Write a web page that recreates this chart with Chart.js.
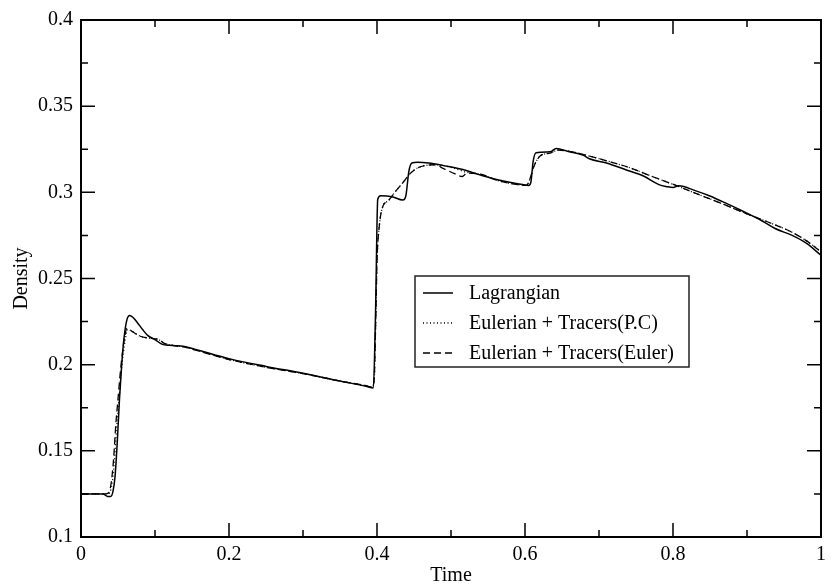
<!DOCTYPE html>
<html>
<head>
<meta charset="utf-8">
<script src="https://cdn.jsdelivr.net/npm/chart.js@4"></script>
<style>
  html, body { margin: 0; padding: 0; background: #fff; }
  #wrap { width: 832px; height: 588px; }
</style>
</head>
<body>
<div id="wrap"><canvas id="mychart" width="832" height="588"></canvas></div>
<script>
// --- data ---
const lagTime = [0, 0.03, 0.036, 0.040, 0.043, 0.046, 0.049, 0.052, 0.055, 0.058, 0.062, 0.066, 0.070, 0.076, 0.083, 0.09, 0.1, 0.11, 0.12, 0.14, 0.16, 0.2, 0.25, 0.3, 0.35, 0.385, 0.395, 0.398, 0.401, 0.405, 0.42, 0.435, 0.439, 0.443, 0.447, 0.455, 0.47, 0.49, 0.513, 0.54, 0.566, 0.59, 0.605, 0.608, 0.611, 0.615, 0.634, 0.642, 0.66, 0.679, 0.687, 0.71, 0.737, 0.76, 0.781, 0.792, 0.8, 0.808, 0.83, 0.849, 0.87, 0.898, 0.92, 0.938, 0.961, 0.98, 1.0];
const lagDensity = [0.125, 0.125, 0.1235, 0.1235, 0.126, 0.135, 0.155, 0.18, 0.2, 0.215, 0.226, 0.2285, 0.2275, 0.2245, 0.2205, 0.217, 0.2145, 0.2118, 0.2112, 0.2105, 0.2082, 0.2035, 0.199, 0.195, 0.1905, 0.1875, 0.1865, 0.23, 0.296, 0.298, 0.2975, 0.2955, 0.298, 0.312, 0.317, 0.3175, 0.317, 0.3155, 0.3135, 0.31, 0.307, 0.305, 0.304, 0.306, 0.318, 0.323, 0.3235, 0.3255, 0.3235, 0.3215, 0.3195, 0.317, 0.313, 0.3095, 0.3045, 0.3033, 0.3028, 0.3038, 0.301, 0.298, 0.294, 0.2883, 0.2835, 0.279, 0.275, 0.2705, 0.2635];

const pcTime = [0, 0.035, 0.039, 0.042, 0.045, 0.048, 0.051, 0.054, 0.057, 0.060, 0.063, 0.07, 0.08, 0.09, 0.1, 0.106, 0.112, 0.12, 0.14, 0.16, 0.2, 0.25, 0.3, 0.35, 0.385, 0.393, 0.396, 0.398, 0.400, 0.403, 0.408, 0.415, 0.424, 0.437, 0.445, 0.455, 0.478, 0.5, 0.52, 0.54, 0.566, 0.59, 0.602, 0.606, 0.612, 0.62, 0.634, 0.645, 0.66, 0.683, 0.71, 0.74, 0.77, 0.804, 0.83, 0.86, 0.9, 0.93, 0.961, 0.98, 1.0];
const pcDensity = [0.125, 0.125, 0.126, 0.131, 0.143, 0.162, 0.178, 0.194, 0.206, 0.215, 0.2205, 0.219, 0.2165, 0.2155, 0.215, 0.2143, 0.2125, 0.2115, 0.2103, 0.2079, 0.203, 0.1985, 0.1948, 0.1905, 0.1878, 0.187, 0.19, 0.22, 0.26, 0.28, 0.292, 0.295, 0.3, 0.3067, 0.311, 0.3142, 0.316, 0.3145, 0.3118, 0.3102, 0.3065, 0.3045, 0.304, 0.307, 0.315, 0.3209, 0.3228, 0.3245, 0.3238, 0.3215, 0.3183, 0.3145, 0.3095, 0.304, 0.2995, 0.2945, 0.2875, 0.2825, 0.2768, 0.272, 0.2655];

const eulTime = [0, 0.034, 0.038, 0.041, 0.044, 0.047, 0.050, 0.053, 0.056, 0.059, 0.062, 0.07, 0.08, 0.09, 0.1, 0.106, 0.112, 0.12, 0.14, 0.16, 0.2, 0.25, 0.3, 0.35, 0.385, 0.393, 0.396, 0.398, 0.400, 0.403, 0.408, 0.415, 0.424, 0.437, 0.445, 0.455, 0.478, 0.49, 0.505, 0.515, 0.522, 0.54, 0.566, 0.59, 0.602, 0.606, 0.612, 0.62, 0.634, 0.645, 0.66, 0.683, 0.71, 0.74, 0.77, 0.804, 0.83, 0.86, 0.9, 0.93, 0.961, 0.98, 1.0];
const eulDensity = [0.125, 0.125, 0.126, 0.132, 0.145, 0.165, 0.18, 0.195, 0.207, 0.216, 0.221, 0.219, 0.2165, 0.2155, 0.215, 0.2145, 0.2125, 0.2115, 0.2102, 0.2078, 0.203, 0.1985, 0.1948, 0.1905, 0.1878, 0.187, 0.19, 0.22, 0.26, 0.28, 0.292, 0.295, 0.3, 0.3067, 0.311, 0.3142, 0.316, 0.3138, 0.3108, 0.3092, 0.3112, 0.3105, 0.3065, 0.3045, 0.304, 0.307, 0.315, 0.3209, 0.3228, 0.3245, 0.3238, 0.3215, 0.3183, 0.3145, 0.3095, 0.304, 0.2995, 0.2945, 0.2875, 0.2825, 0.2768, 0.272, 0.2655];

const seriesNames = ["Lagrangian", "Eulerian + Tracers(P.C)", "Eulerian + Tracers(Euler)"];
const xTicks = [0, 0.2, 0.4, 0.6, 0.8, 1];
const xTickLabels = ["0", "0.2", "0.4", "0.6", "0.8", "1"];
const yTicks = [0.1, 0.15, 0.2, 0.25, 0.3, 0.35, 0.4];
const yTickLabels = ["0.1", "0.15", "0.2", "0.25", "0.3", "0.35", "0.4"];

const FONT = "'Liberation Serif', 'Times New Roman', serif";

function pairs(xs, ys) {
  return xs.map((x, i) => ({ x: x, y: ys[i] }));
}

// frame with inward ticks on all four sides, like xmgrace
const framePlugin = {
  id: 'frame',
  afterDraw(chart) {
    const ctx = chart.ctx;
    const a = chart.chartArea;
    const xs = chart.scales.x, ys = chart.scales.y;
    ctx.save();
    ctx.strokeStyle = '#000';
    ctx.lineWidth = 2;
    ctx.strokeRect(a.left, a.top, a.right - a.left, a.bottom - a.top);
    ctx.lineWidth = 1.5;
    ctx.beginPath();
    for (let i = 0; i < xTicks.length; i++) {
      const p = xs.getPixelForValue(xTicks[i]);
      ctx.moveTo(p, a.bottom); ctx.lineTo(p, a.bottom - 14);
      ctx.moveTo(p, a.top); ctx.lineTo(p, a.top + 14);
      if (i < xTicks.length - 1) {
        const m = xs.getPixelForValue((xTicks[i] + xTicks[i + 1]) / 2);
        ctx.moveTo(m, a.bottom); ctx.lineTo(m, a.bottom - 7);
        ctx.moveTo(m, a.top); ctx.lineTo(m, a.top + 7);
      }
    }
    for (let i = 0; i < yTicks.length; i++) {
      const p = ys.getPixelForValue(yTicks[i]);
      ctx.moveTo(a.left, p); ctx.lineTo(a.left + 14, p);
      ctx.moveTo(a.right, p); ctx.lineTo(a.right - 14, p);
      if (i < yTicks.length - 1) {
        const m = ys.getPixelForValue((yTicks[i] + yTicks[i + 1]) / 2);
        ctx.moveTo(a.left, m); ctx.lineTo(a.left + 7, m);
        ctx.moveTo(a.right, m); ctx.lineTo(a.right - 7, m);
      }
    }
    ctx.stroke();
    ctx.restore();
  }
};

// boxed legend sitting inside the plot
const legendPlugin = {
  id: 'boxLegend',
  afterDraw(chart) {
    const ctx = chart.ctx;
    const box = { x: 415, y: 276, w: 274, h: 91 };
    ctx.save();
    ctx.fillStyle = '#fff';
    ctx.fillRect(box.x, box.y, box.w, box.h);
    ctx.strokeStyle = '#222';
    ctx.lineWidth = 1.5;
    ctx.strokeRect(box.x, box.y, box.w, box.h);
    ctx.font = '20px ' + FONT;
    ctx.textBaseline = 'middle';
    chart.data.datasets.forEach((ds, i) => {
      const yy = box.y + 17 + i * 30;
      ctx.strokeStyle = ds.borderColor;
      ctx.lineWidth = ds.borderWidth;
      ctx.setLineDash(ds.borderDash || []);
      ctx.beginPath();
      ctx.moveTo(box.x + 8, yy);
      ctx.lineTo(box.x + 38, yy);
      ctx.stroke();
      ctx.setLineDash([]);
      ctx.fillStyle = '#000';
      ctx.fillText(ds.label, box.x + 54, yy + 1);
    });
    ctx.restore();
  }
};

const chart = new Chart(document.getElementById('mychart').getContext('2d'), {
  type: 'line',
  data: {
    datasets: [{
      label: seriesNames[0],
      data: pairs(lagTime, lagDensity),
      borderColor: '#000',
      borderWidth: 1.5,
      borderDash: [],
    },
    {
      label: seriesNames[1],
      data: pairs(pcTime, pcDensity),
      borderColor: '#000',
      borderWidth: 1.3,
      borderDash: [1, 2.5],
    },
    {
      label: seriesNames[2],
      data: pairs(eulTime, eulDensity),
      borderColor: '#000',
      borderWidth: 1.3,
      borderDash: [7, 4],
    }]
  },
  options: {
    responsive: false,
    animation: false,
    devicePixelRatio: 1,
    layout: { padding: { top: 16, right: 6, left: 0, bottom: 0 } },
    elements: {
      point: { radius: 0 },
      line: { cubicInterpolationMode: 'monotone', fill: false }
    },
    plugins: {
      legend: { display: false },
      tooltip: { enabled: false }
    },
    scales: {
      x: {
        type: 'linear',
        min: 0, max: 1,
        grid: { display: false, drawTicks: false },
        border: { display: false },
        afterBuildTicks(scale) { scale.ticks = xTicks.map(v => ({ value: v })); },
        afterFit(scale) { scale.height = 51; },
        ticks: {
          color: '#000',
          font: { family: FONT, size: 20 },
          padding: 6,
          maxRotation: 0,
          autoSkip: false,
          callback: (v) => xTickLabels[xTicks.indexOf(v)]
        },
        title: {
          display: true,
          text: 'Time',
          color: '#000',
          font: { family: FONT, size: 20 },
          padding: { top: 0, bottom: 0 }
        }
      },
      y: {
        type: 'linear',
        min: 0.1, max: 0.4,
        grid: { display: false, drawTicks: false },
        border: { display: false },
        afterBuildTicks(scale) { scale.ticks = yTicks.map(v => ({ value: v })); },
        afterFit(scale) { scale.width = 81; },
        ticks: {
          color: '#000',
          font: { family: FONT, size: 20 },
          padding: 8,
          autoSkip: false,
          callback: (v) => yTickLabels[yTicks.indexOf(v)]
        },
        title: {
          display: true,
          text: 'Density',
          color: '#000',
          font: { family: FONT, size: 20 },
          padding: { top: 10, bottom: 0 }
        }
      }
    }
  },
  plugins: [framePlugin, legendPlugin]
});
</script>
</body>
</html>
